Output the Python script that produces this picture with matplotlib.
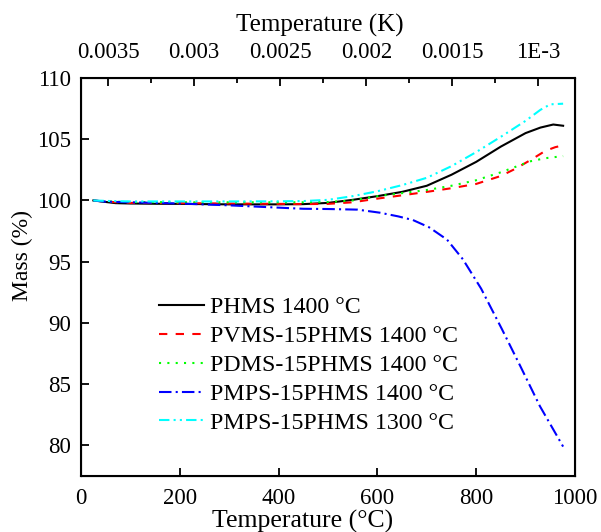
import matplotlib
matplotlib.use("Agg")
import matplotlib.pyplot as plt
from matplotlib.ticker import FixedLocator, MultipleLocator

plt.rcParams['font.family'] = ['Liberation Serif', 'DejaVu Serif']
plt.rcParams['mathtext.fontset'] = 'stix'

# TGA curves, temperature in degC and residual mass in %
t_phms = [25, 45, 70, 100, 150, 200, 250, 300, 350, 400, 450, 500, 550, 600,
          650, 700, 750, 800, 850, 900, 930, 956, 976]
m_phms = [100.0, 99.9, 99.78, 99.75, 99.73, 99.72, 99.7, 99.68, 99.68, 99.68,
          99.7, 99.8, 100.05, 100.35, 100.7, 101.2, 102.1, 103.15, 104.4,
          105.5, 105.95, 106.2, 106.1]

t_pvms = [25, 50, 100, 200, 300, 400, 450, 500, 550, 600, 650, 700, 750, 800,
          850, 880, 910, 940, 960, 976]
m_pvms = [100.0, 99.9, 99.8, 99.78, 99.75, 99.72, 99.7, 99.72, 99.85, 100.15,
          100.42, 100.7, 101.0, 101.35, 102.0, 102.6, 103.3, 104.05, 104.35,
          104.5]

t_pdms = [25, 50, 100, 200, 300, 400, 450, 500, 550, 600, 650, 700, 750, 800,
          850, 880, 910, 940, 976]
m_pdms = [100.0, 99.92, 99.87, 99.85, 99.85, 99.85, 99.85, 99.87, 100.0,
          100.35, 100.6, 100.85, 101.2, 101.65, 102.3, 102.75, 103.2, 103.45,
          103.62]

t_pmps14 = [25, 50, 100, 200, 300, 380, 450, 500, 560, 605, 642, 672, 705,
            741, 773, 810, 852, 889, 929, 976]
m_pmps14 = [100.0, 99.9, 99.85, 99.75, 99.6, 99.45, 99.32, 99.3, 99.25, 99.0,
            98.7, 98.4, 97.8, 96.8, 95.2, 92.8, 89.5, 86.5, 83.2, 79.9]

t_pmps13 = [25, 60, 100, 200, 300, 400, 450, 500, 550, 600, 650, 700, 750,
            800, 850, 900, 930, 950, 976]
m_pmps13 = [100.0, 99.95, 99.92, 99.92, 99.92, 99.93, 99.95, 100.05, 100.35,
            100.75, 101.25, 101.85, 102.8, 103.95, 105.2, 106.5, 107.4, 107.85,
            107.9]

series = [
    (t_phms, m_phms, 'PHMS 1400 °C', 'black', '-'),
    (t_pvms, m_pvms, 'PVMS-15PHMS 1400 °C', 'red', (0, (4, 4))),
    (t_pdms, m_pdms, 'PDMS-15PHMS 1400 °C', '#00ff00', (0, (1, 3))),
    (t_pmps14, m_pmps14, 'PMPS-15PHMS 1400 °C', 'blue', (0, (6, 2, 1, 2))),
    (t_pmps13, m_pmps13, 'PMPS-15PHMS 1300 °C', 'cyan', (0, (5, 2, 1, 2, 1, 2))),
]

# top axis tick values and their labels
top_ticks = [0.0035, 0.003, 0.0025, 0.002, 0.0015, 0.001]
top_labels = ['0.0035', '0.003', '0.0025', '0.002', '0.0015', '1E-3']

fig = plt.figure(figsize=(6.01, 5.32), dpi=100)
ax = fig.add_axes([0.1348, 0.1053, 0.8219, 0.7481])

for t, m, lab, col, ls in series:
    ax.plot(t, m, color=col, linestyle=ls, linewidth=1.5, label=lab)

ax.set_xlim(0, 1000)
ax.set_ylim(77.5, 110)
ax.xaxis.set_major_locator(MultipleLocator(200))
ax.yaxis.set_major_locator(MultipleLocator(5))
ax.tick_params(axis='both', direction='in', labelsize=16.5, width=1.3, length=6,
               pad=7, top=False, right=False)
ax.tick_params(axis='x', pad=9)
ax.set_xlabel('Temperature (°C)', fontsize=18.5, labelpad=0, x=0.449)
ax.set_ylabel('Mass (%)', fontsize=17, labelpad=3, y=0.555)
for s in ax.spines.values():
    s.set_linewidth(1.5)

# reciprocal temperature scale on top, linear in pixel space
top = ax.twiny()
top.set_xlim(0.003657, 0.000788)
top.xaxis.set_major_locator(FixedLocator(top_ticks))
top.set_xticklabels(top_labels)
top.xaxis.set_minor_locator(MultipleLocator(0.00025))
top.tick_params(axis='x', which='major', direction='in', labelsize=16.5,
                width=1.3, length=6, pad=11)
top.tick_params(axis='x', which='minor', direction='in', width=1.3, length=3.5)
top.set_xlabel('Temperature (K)', fontsize=18, labelpad=7, x=0.484)

leg = ax.legend(loc='upper left', bbox_to_anchor=(0.138, 0.475), frameon=False,
                fontsize=17.2, handlelength=1.9, handletextpad=0.25,
                labelspacing=0.3, borderaxespad=0)

fig.savefig('out.png', dpi=100)
